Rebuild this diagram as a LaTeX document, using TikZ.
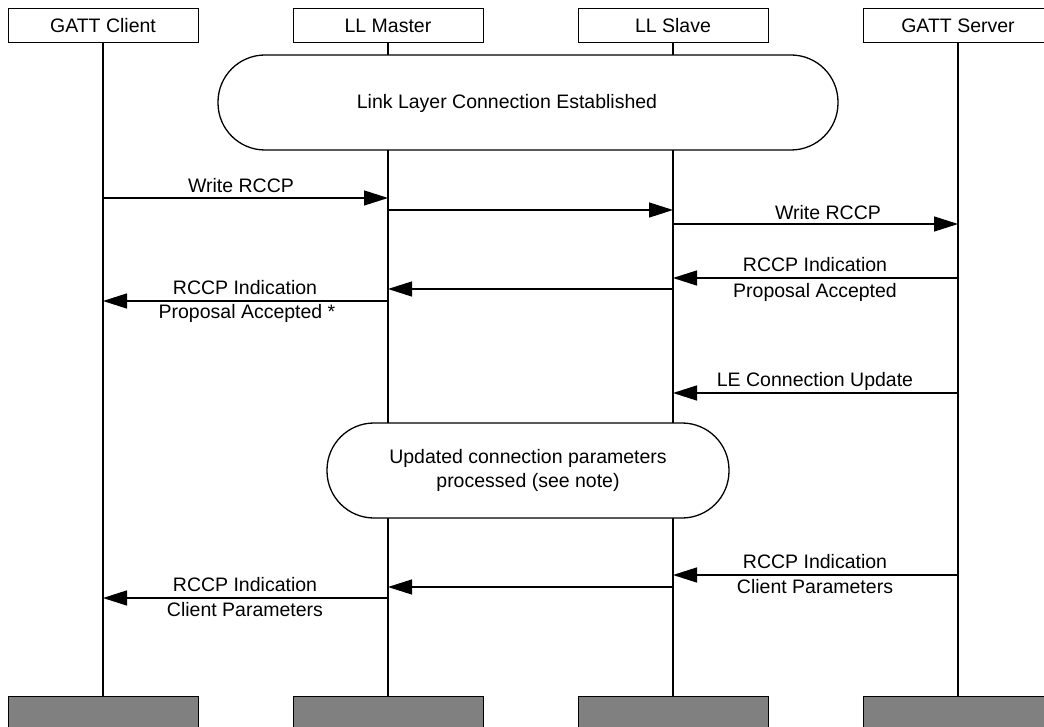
\documentclass[tikz,border=0pt]{standalone}
\usepackage{fontspec}
\setmainfont{Liberation Sans}
\usetikzlibrary{arrows.meta}
\definecolor{footgray}{RGB}{128,128,128}
\begin{document}
\begin{tikzpicture}[x=1pt,y=-1pt,
  every node/.style={font=\fontsize{19.5}{24}\selectfont, inner sep=0pt},
  hdr/.style={draw, line width=1pt, fill=white, minimum width=190pt, minimum height=34pt},
  ftr/.style={draw, line width=1pt, fill=footgray, minimum width=190pt, minimum height=60pt, anchor=north},
  life/.style={line width=2pt},
  msg/.style={line width=1.4pt, -{Triangle[length=24pt,width=15pt]}},
  statebox/.style={draw, line width=1.3pt, fill=white, rounded corners=47pt, minimum height=95pt},
  lbl/.style={anchor=center}
]
\clip (0,0) rectangle (1044,727);

% participants
\node[hdr] (hC) at (103,26) {GATT Client};
\node[hdr] (hM) at (388,26) {LL Master};
\node[hdr] (hS) at (673,26) {LL Slave};
\node[hdr] (hV) at (958,26) {GATT Server};

% lifeline ends
\node[ftr] (fC) at (103,696) {};
\node[ftr] (fM) at (388,696) {};
\node[ftr] (fS) at (673,696) {};
\node[ftr] (fV) at (958,696) {};

% lifelines
\draw[life] (hC.south) -- (fC.north);
\draw[life] (hM.south) -- (fM.north);
\draw[life] (hS.south) -- (fS.north);
\draw[life] (hV.south) -- (fV.north);

% states spanning the link layer
\node[statebox, minimum width=620pt] (est) at (528,102.5) {};
\node (estT) at (507,103) {Link Layer Connection Established};
\node[statebox, minimum width=402pt, align=center] (upd) at (528,470.5)
  {Updated connection parameters\\processed (see note)};

% message end points on the lifelines
\coordinate (c1) at (103,198); \coordinate (m1) at (388,198);
\coordinate (m2) at (388,210); \coordinate (s2) at (673,210);
\coordinate (s3) at (673,224); \coordinate (v3) at (958,224);
\coordinate (v4) at (958,278); \coordinate (s4) at (673,278);
\coordinate (s5) at (673,289); \coordinate (m5) at (388,289);
\coordinate (m6) at (388,301); \coordinate (c6) at (103,301);
\coordinate (v7) at (958,393); \coordinate (s7) at (673,393);
\coordinate (v8) at (958,575); \coordinate (s8) at (673,575);
\coordinate (s9) at (673,587); \coordinate (m9) at (388,587);
\coordinate (m10) at (388,598); \coordinate (c10) at (103,598);

% messages
\draw[msg] (c1) -- (m1);
\draw[msg] (m2) -- (s2);
\draw[msg] (s3) -- (v3);
\draw[msg] (v4) -- (s4);
\draw[msg] (s5) -- (m5);
\draw[msg] (m6) -- (c6);
\draw[msg] (v7) -- (s7);
\draw[msg] (v8) -- (s8);
\draw[msg] (s9) -- (m9);
\draw[msg] (m10) -- (c10);

% message labels
\node[lbl] (t1) at (241,186) {Write RCCP};
\node[lbl] (t3) at (828,213) {Write RCCP};
\node[lbl] (t4a) at (815,265) {RCCP Indication};
\node[lbl] (t4b) at (815,292) {Proposal Accepted};
\node[lbl] (t6a) at (245,288) {RCCP Indication};
\node[lbl] (t6b) at (247,313) {Proposal Accepted *};
\node[lbl] (t7) at (815,381) {LE Connection Update};
\node[lbl] (t8a) at (815,562) {RCCP Indication};
\node[lbl] (t8b) at (815,587) {Client Parameters};
\node[lbl] (t10a) at (245,585) {RCCP Indication};
\node[lbl] (t10b) at (245,610) {Client Parameters};
\end{tikzpicture}
\end{document}
